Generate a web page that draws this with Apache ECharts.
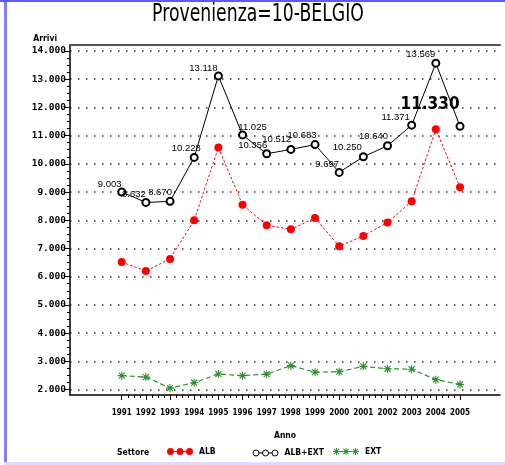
<!DOCTYPE html>
<html>
<head>
<meta charset="utf-8">
<script src="https://cdn.jsdelivr.net/npm/echarts@6/dist/echarts.min.js"></script>
<style>html,body{margin:0;padding:0;background:#fff}#c{width:505px;height:465px}</style>
</head>
<body>
<div id="c"></div>
<script>
// ---- data ----
const YEARS = [1991,1992,1993,1994,1995,1996,1997,1998,1999,2000,2001,2002,2003,2004,2005];
const ALB = [6520,6200,6630,8000,10580,8550,7820,7680,8080,7080,7440,7920,8670,11230,9170];
const ALB_EXT = [9003,8632,8670,10228,13118,11025,10356,10512,10683,9697,10250,10640,11371,13569,11330];
const EXT = [2490,2440,2050,2240,2550,2490,2545,2845,2615,2630,2820,2735,2720,2350,2180];
const Y_TICKS = [2000,3000,4000,5000,6000,7000,8000,9000,10000,11000,12000,13000,14000];
const SERIES_NAMES = ['ALB','ALB+EXT','EXT'];

// ---- layout / style (not data) ----
const LABEL_OFFSETS = [[-12,-8],[-12,-8],[-10,-9],[-8,-9],[-15,-8],[10,-8],[-14,-8],[-14,-10],[-13,-9],[-12,-8],[-16,-9],[-14,-9],[-16,-8],[-15,-9],[-30,-22]];
const BIG_LABEL_INDEX = 14;
const XMIN = 1988.86, XMAX = 2006.655;
const GREEN = '#2d8f2d';

function fontAvailable(name){
  const c = document.createElement('canvas').getContext('2d');
  const s = 'Provenienza 1234567890 ALB+EXT';
  c.font = '40px monospace'; const a = c.measureText(s).width;
  c.font = '40px "' + name + '", monospace'; const b = c.measureText(s).width;
  c.font = '40px serif'; const a2 = c.measureText(s).width;
  c.font = '40px "' + name + '", serif'; const b2 = c.measureText(s).width;
  return a !== b || a2 !== b2;
}
const NARROW = ['Liberation Sans Narrow','DejaVu Sans Condensed','Arial Narrow','Roboto Condensed'].find(fontAvailable);
const PIX = NARROW ? '"' + NARROW + '", sans-serif' : 'Roboto, sans-serif';

function fmt(v){ return Math.round(v).toString().replace(/\B(?=(\d{3})+(?!\d))/g,'.'); }

function asterisk(ox, oy, s){
  const p = (x,y)=> (ox + x*s/10).toFixed(2)+','+(oy + y*s/10).toFixed(2);
  return 'M'+p(0,4.3)+' L'+p(10,4.3)+' L'+p(10,5.7)+' L'+p(0,5.7)+' Z '+
         'M'+p(4.3,0)+' L'+p(5.7,0)+' L'+p(5.7,10)+' L'+p(4.3,10)+' Z '+
         'M'+p(0.8,1.8)+' L'+p(1.8,0.8)+' L'+p(9.2,8.2)+' L'+p(8.2,9.2)+' Z '+
         'M'+p(8.2,0.8)+' L'+p(9.2,1.8)+' L'+p(1.8,9.2)+' L'+p(0.8,8.2)+' Z';
}
const STAR = 'path://' + asterisk(0,0,10);
function circ(cx, cy, r){ return 'M'+(cx-r)+','+cy+' A'+r+','+r+' 0 1 1 '+(cx+r)+','+cy+' A'+r+','+r+' 0 1 1 '+(cx-r)+','+cy+' Z '; }
const ICON_ALB = 'path://' + circ(3.5,3.5,3.5) + circ(13,3.5,3.5) + circ(22.5,3.5,3.5) +
  'M7,3 L9.5,3 L9.5,4 L7,4 Z M16.5,3 L19,3 L19,4 L16.5,4 Z';
const ICON_TOT = 'path://' + circ(3.5,3.5,3) + circ(13,3.5,3) + circ(22.5,3.5,3) +
  'M6.5,3.5 L10,3.5 M16,3.5 L19.5,3.5 M0,0 M26,7';
const ICON_EXT = 'path://' + asterisk(0,0,7) + ' ' + asterisk(9.5,0,7) + ' ' + asterisk(19,0,7) +
  ' M7,3 L9.5,3 L9.5,4 L7,4 Z M16.5,3 L19,3 L19,4 L16.5,4 Z';

const minorX = [];
for (let i = 0; i < YEARS.length - 1; i++) for (let k = 1; k < 4; k++) minorX.push(YEARS[i] + k/4);

const totData = ALB_EXT.map((v,i)=>{
  const item = {value:[YEARS[i], v], label:{offset: LABEL_OFFSETS[i]}};
  if (i === BIG_LABEL_INDEX) item.label = {offset: LABEL_OFFSETS[i], fontSize: 17, fontWeight: 'bold', fontFamily: PIX};
  return item;
});

const chart = echarts.init(document.getElementById('c'), null, {renderer:'canvas'});
const legendBase = {orient:'horizontal', top: 447, padding: 0, itemWidth: 26, itemHeight: 7, itemGap: 10,
  textStyle:{fontFamily: PIX, fontSize: 8.5, fontWeight:'bold', color:'#000', padding:[0,0,0,1]}, selectedMode:false};

chart.setOption({
  animation:false,
  backgroundColor:'#fff',
  xAxis:[
    {gridIndex:0, type:'value', min:XMIN, max:XMAX, show:false},
    {gridIndex:1, type:'value', min:XMIN, max:XMAX, position:'bottom',
      axisLine:{show:true, lineStyle:{color:'#000', width:1.5}},
      axisTick:{show:true, customValues: YEARS, length:5, lineStyle:{color:'#000', width:1}},
      axisLabel:{show:true, customValues: YEARS, formatter: v=>String(v), margin: 14,
        fontFamily: PIX, fontWeight:'bold', fontSize: 8, color:'#000'},
      splitLine:{show:false},
      name:'Anno', nameLocation:'middle', nameGap: 36,
      nameTextStyle:{fontFamily: PIX, fontWeight:'bold', fontSize: 8.5, color:'#000'}},
    {gridIndex:1, type:'value', min:XMIN, max:XMAX, position:'bottom',
      axisLine:{show:false},
      axisTick:{show:true, customValues: minorX, length:3, lineStyle:{color:'#000', width:1}},
      axisLabel:{show:false}, splitLine:{show:false}},
    {gridIndex:1, type:'value', min:XMIN, max:XMAX, position:'top',
      axisLine:{show:true, lineStyle:{color:'#555', width:2}},
      axisTick:{show:false}, axisLabel:{show:false}, splitLine:{show:false}}
  ],
  grid:[
    {left:70, right:5, top:51, bottom:75.5},
    {left:70, right:5, top:45, bottom:70}
  ],
  yAxis:[
    {gridIndex:0, type:'value', min: Y_TICKS[0], max: Y_TICKS[Y_TICKS.length-1], interval: 1000,
      axisLine:{show:false},
      axisTick:{show:true, length:5, lineStyle:{color:'#000'}},
      minorTick:{show:true, splitNumber:4, length:3, lineStyle:{color:'#000'}},
      axisLabel:{formatter: fmt, margin: 4, fontFamily:'"DejaVu Sans Mono", monospace', fontWeight:'bold', fontSize: 9.5, color:'#000'},
      splitLine:{show:true, lineStyle:{color:'#333', width:1.5, type:[1.5,6.5]}}},
    {gridIndex:1, type:'value', min:0, max:1,
      axisLine:{show:true, lineStyle:{color:'#000', width:1.5}},
      axisTick:{show:false}, axisLabel:{show:false}, splitLine:{show:false},
      name:'Arrivi', nameLocation:'end', nameGap: 2,
      nameTextStyle:{fontFamily: PIX, fontWeight:'bold', fontSize: 8.5, color:'#000', align:'right', verticalAlign:'bottom', padding:[0,13,0,0]}}
  ],
  legend:[
    Object.assign({}, legendBase, {left:167, data:[{name:SERIES_NAMES[0], icon: ICON_ALB, itemStyle:{color:'#ff0000', borderWidth:0}}]}),
    Object.assign({}, legendBase, {left:250, data:[{name:SERIES_NAMES[1], icon: ICON_TOT, itemStyle:{color:'none', borderColor:'#000', borderWidth:1}}]}),
    Object.assign({}, legendBase, {left:333, data:[{name:SERIES_NAMES[2], icon: ICON_EXT, itemStyle:{color:GREEN, borderWidth:0}}]})
  ],
  graphic:[
    {type:'text', x:258, y:15, scaleX: 0.72, style:{text:'Provenienza=10-BELGIO', font:'normal 24px "DejaVu Sans", sans-serif', fill:'#000', align:'center', verticalAlign:'middle'}},
    {type:'text', x:117, y:453, style:{text:'Settore', font:'bold 8.5px ' + PIX, fill:'#000', verticalAlign:'middle'}},
    {type:'rect', left:4, top:0, shape:{width:3, height:463}, style:{fill:'#7f7fff'}},
    {type:'rect', left:0, top:0, shape:{width:505, height:2}, style:{fill:'#5a5aff'}},
    {type:'rect', left:4, top:462, shape:{width:501, height:3}, style:{fill:'#dcdcff'}}
  ],
  series:[
    {name:SERIES_NAMES[0], type:'line', xAxisIndex:0, yAxisIndex:0,
      data: ALB.map((v,i)=>[YEARS[i], v]),
      symbol:'circle', symbolSize:8,
      itemStyle:{color:'#ff0000'},
      lineStyle:{color:'#ff0000', width:1, type:[2.5,2]}},
    {name:SERIES_NAMES[1], type:'line', xAxisIndex:0, yAxisIndex:0,
      data: totData,
      symbol:'emptyCircle', symbolSize:7,
      itemStyle:{color:'#000', borderColor:'#000', borderWidth:1},
      lineStyle:{color:'#000', width:1},
      label:{show:true, position:'inside', align:'center', verticalAlign:'middle',
        formatter: p=>fmt(p.value[1]), fontFamily:'"Liberation Sans", Arial, sans-serif', fontSize: 9.5, color:'#000'},
      z: 3},
    {name:SERIES_NAMES[2], type:'line', xAxisIndex:0, yAxisIndex:0,
      data: EXT.map((v,i)=>[YEARS[i], v]),
      symbol: STAR, symbolSize:8,
      itemStyle:{color:GREEN},
      lineStyle:{color:GREEN, width:1.2, type:[5,3]}}
  ]
});
</script>
</body>
</html>
